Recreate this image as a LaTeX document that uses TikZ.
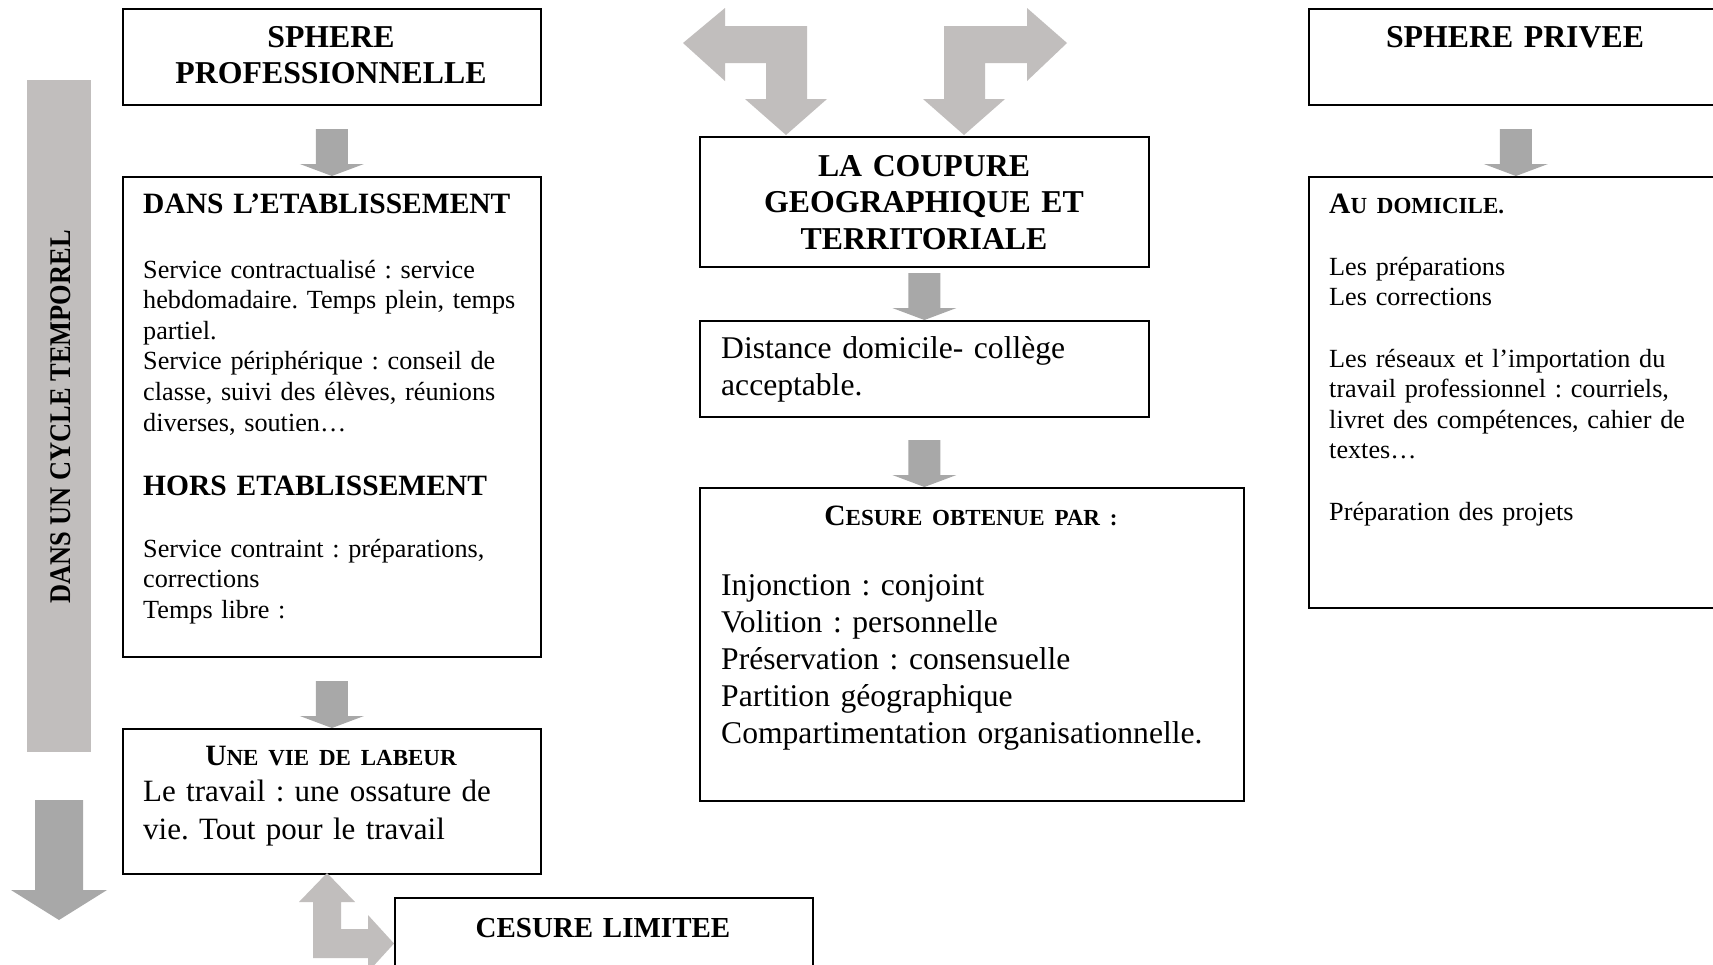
\documentclass[tikz,border=0pt]{standalone}
\usepackage{fontspec}
\setmainfont{Liberation Serif}
\usetikzlibrary{calc}
\definecolor{lgray}{RGB}{193,190,189}
\definecolor{dgray}{RGB}{168,168,168}
\newcommand\hdf{\fontsize{31.8}{36.7}\selectfont\bfseries}
\newcommand\hdg{\fontsize{29.5}{34}\selectfont\bfseries}
\newcommand\bdf{\fontsize{26.2}{30.6}\selectfont}
\newcommand\bgf{\fontsize{31.6}{37.2}\selectfont}
\newcommand\bvf{\fontsize{31}{38}\selectfont}
\newcommand\scf{\fontsize{23}{30}\selectfont}
\frenchspacing
\tikzset{
  box/.style={draw, line width=1.8pt, anchor=north west, inner sep=0pt},
  ltxt/.style={anchor=base west, inner sep=0pt, text width=560pt, align=left},
  ctxt/.style={anchor=base, inner sep=0pt, text width=520pt, align=center},
  downarr/.pic={\fill[dgray] (-16,-47) -- (16,-47) -- (16,-12) -- (32,-12) -- (0,0) -- (-32,-12) -- (-16,-12) -- cycle;}
}
\begin{document}
\frenchspacing
\begin{tikzpicture}[x=1pt,y=-1pt]
\useasboundingbox (0,0) rectangle (1713,964);
\clip (0,0) rectangle (1713,964);
\fill[white] (0,0) rectangle (1713,964);

% boxes
\node[box, minimum width=418pt, minimum height=96pt] (SP) at (122,8) {};
\node[box, minimum width=418pt, minimum height=480pt] (DE) at (122,176) {};
\node[box, minimum width=418pt, minimum height=145pt] (VL) at (122,728) {};
\node[box, minimum width=418pt, minimum height=120pt] (CL) at (394,897) {};
\node[box, minimum width=449pt, minimum height=130pt] (GC) at (699,136) {};
\node[box, minimum width=449pt, minimum height=96pt] (DD) at (699,320) {};
\node[box, minimum width=544pt, minimum height=313pt] (CO) at (699,487) {};
\node[box, minimum width=414pt, minimum height=96pt] (PR) at (1308,8) {};
\node[box, minimum width=414pt, minimum height=431pt] (AD) at (1308,176) {};

% straight arrows
\pic at (DE.north) {downarr};
\pic at (VL.north) {downarr};
\pic at (DD.north) {downarr};
\pic at (DD.south |- CO.north) {downarr};
\pic at (AD.north) {downarr};

% top bent arrows
\fill[lgray] (683,43) -- (725,8) -- (725,26) -- (807,26) -- (807,99) -- (827,99) -- (786,135)
  -- (745,99) -- (766,99) -- (766,63) -- (725,63) -- (725,81) -- cycle;
\fill[lgray] (1067,43) -- (1027,8) -- (1027,26) -- (944,26) -- (944,99) -- (923,99) -- (964,135)
  -- (1005,99) -- (985,99) -- (985,63) -- (1027,63) -- (1027,81) -- cycle;

% bottom bent arrow
\fill[lgray] (327,873) -- (355,902) -- (341,902) -- (341,929) -- (368,929) -- (368,915) -- (394,943.5)
  -- (368,972) -- (368,958) -- (313,958) -- (313,902) -- (299,902) -- cycle;

% timeline
\fill[lgray] (27,80) rectangle (91,752);
\node[anchor=base, rotate=90, inner sep=0pt, font=\fontsize{30}{30}\selectfont\bfseries] (TL) at (70,417)
  {\scalebox{0.88}[1]{DANS UN CYCLE TEMPOREL}};
\fill[dgray] (35,800) -- (83,800) -- (83,890) -- (107,890) -- (59,920) -- (11,890) -- (35,890) -- cycle;

% texts left column
\node[ctxt, font=\hdf] (tSP) at (331,47) {SPHERE\\PROFESSIONNELLE};
\node[ltxt, font=\hdg] (tDE1) at (143,213) {DANS L’ETABLISSEMENT};
\node[ltxt, font=\bdf] (tDE2) at (143,278) {Service contractualisé : service\\hebdomadaire. Temps plein, temps\\partiel.\\Service périphérique : conseil de\\classe, suivi des élèves, réunions\\diverses, soutien…};
\node[ltxt, font=\hdg] (tDE3) at (143,495) {HORS ETABLISSEMENT};
\node[ltxt, font=\bdf] (tDE4) at (143,557) {Service contraint : préparations,\\corrections\\Temps libre :};
\node[ctxt, font=\fontsize{29.5}{30}\selectfont\bfseries] (tVL1) at (331,765) {U{\scf NE VIE DE LABEUR}};
\node[ltxt, font=\bvf] (tVL2) at (143,801) {Le travail : une ossature de\\vie. Tout pour le travail};
\node[ctxt, font=\fontsize{29}{34}\selectfont\bfseries] (tCL) at (603,937) {CESURE LIMITEE};

% middle column
\node[ctxt, font=\hdf] (tGC) at (924,176) {LA COUPURE\\GEOGRAPHIQUE ET\\TERRITORIALE};
\node[ltxt, font=\bgf] (tDD) at (721,358) {Distance domicile- collège\\acceptable.};
\node[ctxt, font=\fontsize{29.5}{30}\selectfont\bfseries] (tCO1) at (971,525) {C{\scf ESURE OBTENUE PAR :}};
\node[ltxt, font=\bgf] (tCO2) at (721,595) {Injonction : conjoint\\Volition : personnelle\\Préservation : consensuelle\\Partition géographique\\Compartimentation organisationnelle.};

% right column
\node[ctxt, font=\hdf] (tPR) at (1515,47) {SPHERE PRIVEE};
\node[ltxt, font=\fontsize{29.5}{30}\selectfont\bfseries] (tAD1) at (1329,213) {A{\scf U DOMICILE.}};
\node[ltxt, font=\bdf] (tAD2) at (1329,275) {Les préparations\\Les corrections};
\node[ltxt, font=\bdf] (tAD3) at (1329,367) {Les réseaux et l’importation du\\travail professionnel : courriels,\\livret des compétences, cahier de\\textes…};
\node[ltxt, font=\bdf] (tAD4) at (1329,520) {Préparation des projets};
\end{tikzpicture}
\end{document}
